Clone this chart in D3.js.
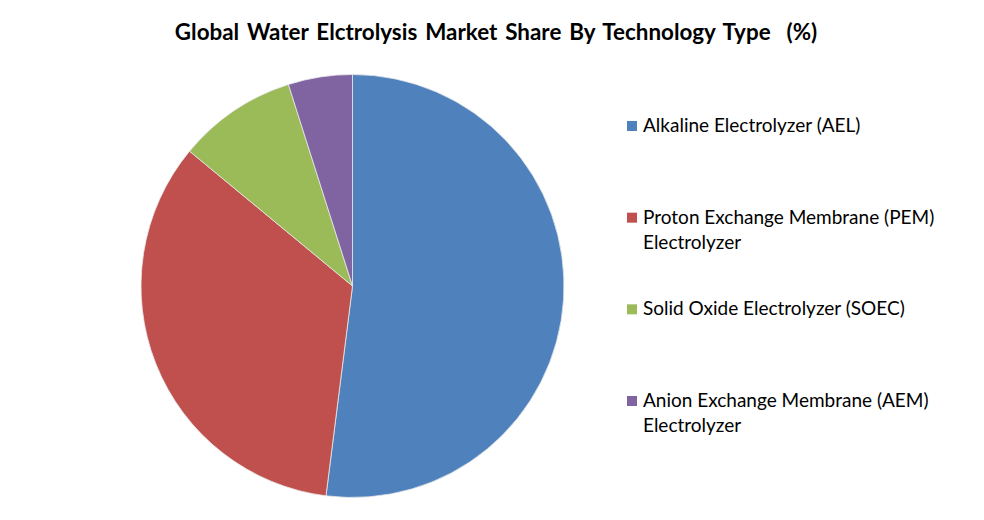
<!DOCTYPE html>
<html>
<head>
<meta charset="utf-8">
<script src="https://cdn.jsdelivr.net/npm/d3@7"></script>
<style>
  html, body { margin: 0; padding: 0; background: #fff; }
  svg { display: block; }
</style>
</head>
<body>
<svg id="chart" width="984" height="520"></svg>
<script>
const title = "Global Water Elctrolysis Market Share By Technology Type  (%)";
const categories = [
  ["Alkaline Electrolyzer (AEL)"],
  ["Proton Exchange Membrane (PEM)", "Electrolyzer"],
  ["Solid Oxide Electrolyzer (SOEC)"],
  ["Anion Exchange Membrane (AEM)", "Electrolyzer"]
];
const values = [52, 34, 9.1, 4.9];
const colors = ["#4F81BD", "#C0504D", "#9BBB59", "#8064A2"];

const svg = d3.select("#chart");
const font = "Lato, 'Open Sans', sans-serif";

svg.append("text")
  .attr("x", 496).attr("y", 40)
  .attr("text-anchor", "middle")
  .attr("font-family", font)
  .attr("font-weight", "bold")
  .attr("font-size", 22.4)
  .attr("word-spacing", 2.5)
  .attr("fill", "#000")
  .style("white-space", "pre")
  .text(title);

const cx = 352.5, cy = 286, r = 211.5;
const pie = d3.pie().sort(null).value(d => d);
const arc = d3.arc().innerRadius(0).outerRadius(r);
const g = svg.append("g").attr("transform", `translate(${cx},${cy})`);
g.selectAll("path")
  .data(pie(values))
  .join("path")
  .attr("d", arc)
  .attr("fill", (d, i) => colors[i])
  .attr("stroke", "#e8e8e8")
  .attr("stroke-width", 0.8);

const legendY = d3.scalePoint().domain(d3.range(categories.length)).range([126, 401]);
const lg = svg.append("g");
categories.forEach((lines, i) => {
  const y = legendY(i);
  lg.append("rect")
    .attr("x", 627).attr("y", y - 5)
    .attr("width", 10).attr("height", 10)
    .attr("fill", colors[i]);
  const t = lg.append("text")
    .attr("font-family", font)
    .attr("font-size", 19)
    .attr("fill", "#000");
  lines.forEach((ln, j) => {
    t.append("tspan")
      .attr("x", 643)
      .attr("y", y + 6 + j * 25)
      .text(ln);
  });
});
</script>
</body>
</html>
